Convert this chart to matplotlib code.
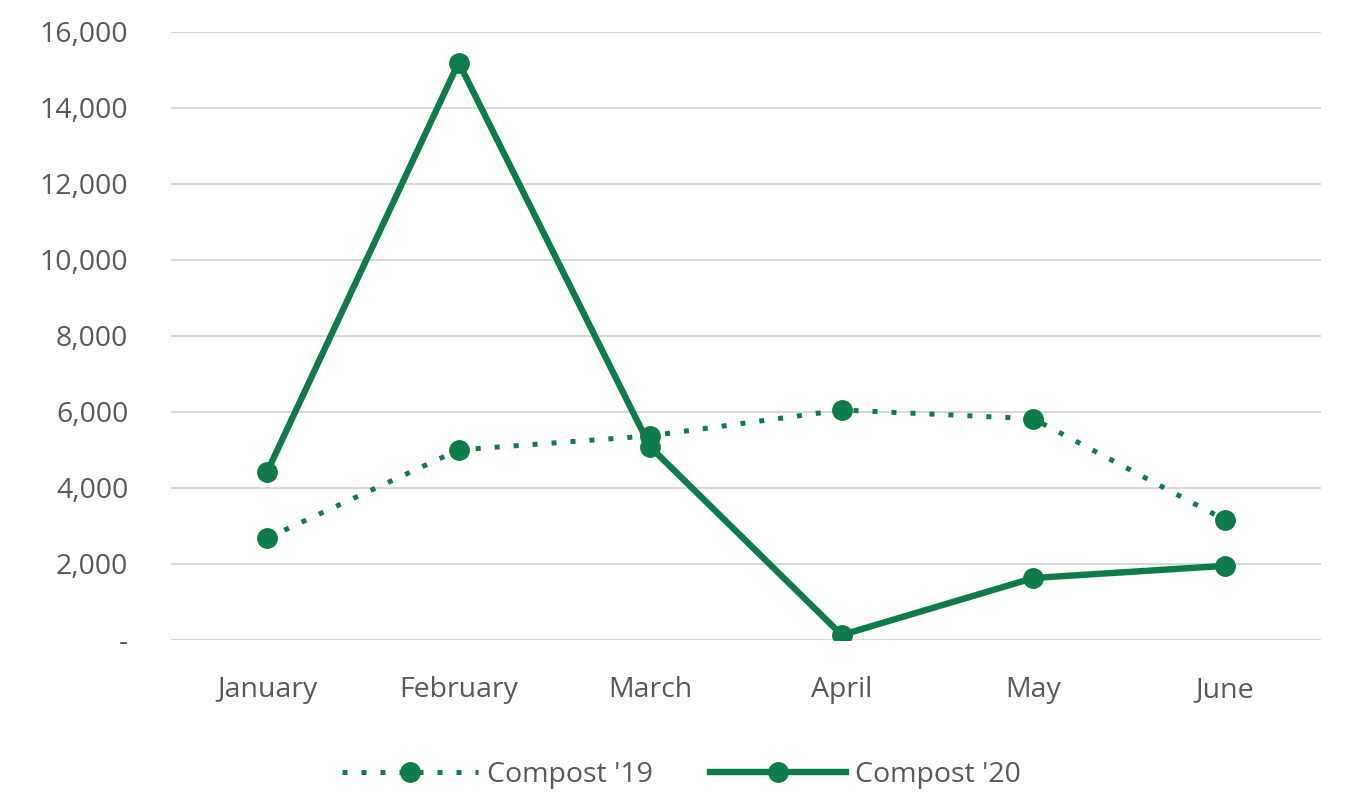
import matplotlib
matplotlib.use("Agg")
import matplotlib.pyplot as plt
from matplotlib.ticker import FuncFormatter

months = ["January", "February", "March", "April", "May", "June"]
compost_19 = [2680, 5000, 5370, 6050, 5820, 3160]
compost_20 = [4420, 15190, 5080, 130, 1630, 1950]

green = "#0E7C4A"
text_grey = "#595959"
plt.rcParams["font.family"] = ["Open Sans", "DejaVu Sans"]

fig = plt.figure(figsize=(13.49, 7.94), dpi=100)
ax = fig.add_axes([0.127, 0.194, 0.852, 0.766])

x = range(len(months))
ax.plot(x, compost_19, color=green, lw=3.6, linestyle=(0, (1, 2.8)),
        dash_capstyle="butt", marker="o", markersize=14, label="Compost '19")
ax.plot(x, compost_20, color=green, lw=4.6, solid_joinstyle="miter",
        marker="o", markersize=14, label="Compost '20")

ax.set_xlim(-0.5, len(months) - 0.5)
ax.set_ylim(0, 16000)
ax.set_yticks(range(0, 16001, 2000))
ax.yaxis.set_major_formatter(FuncFormatter(lambda v, p: "-" if v == 0 else f"{int(v):,}"))
ax.set_xticks(list(x))
ax.set_xticklabels(months)
ax.tick_params(axis="both", length=0, labelsize=20.5, colors=text_grey)
ax.tick_params(axis="y", pad=31)
ax.tick_params(axis="x", pad=26)
ax.grid(axis="y", color="#D9D9D9", lw=1.5)
ax.set_axisbelow(True)
for s in ax.spines.values():
    s.set_visible(False)

leg = fig.legend(loc="lower center", bbox_to_anchor=(0.505, -0.026), ncol=2,
                 frameon=False, fontsize=20.5, handlelength=4.8, columnspacing=2.0,
                 handletextpad=0.3, labelcolor=text_grey, markerscale=1.0)

fig.savefig("out.png", dpi=100, facecolor="white")
